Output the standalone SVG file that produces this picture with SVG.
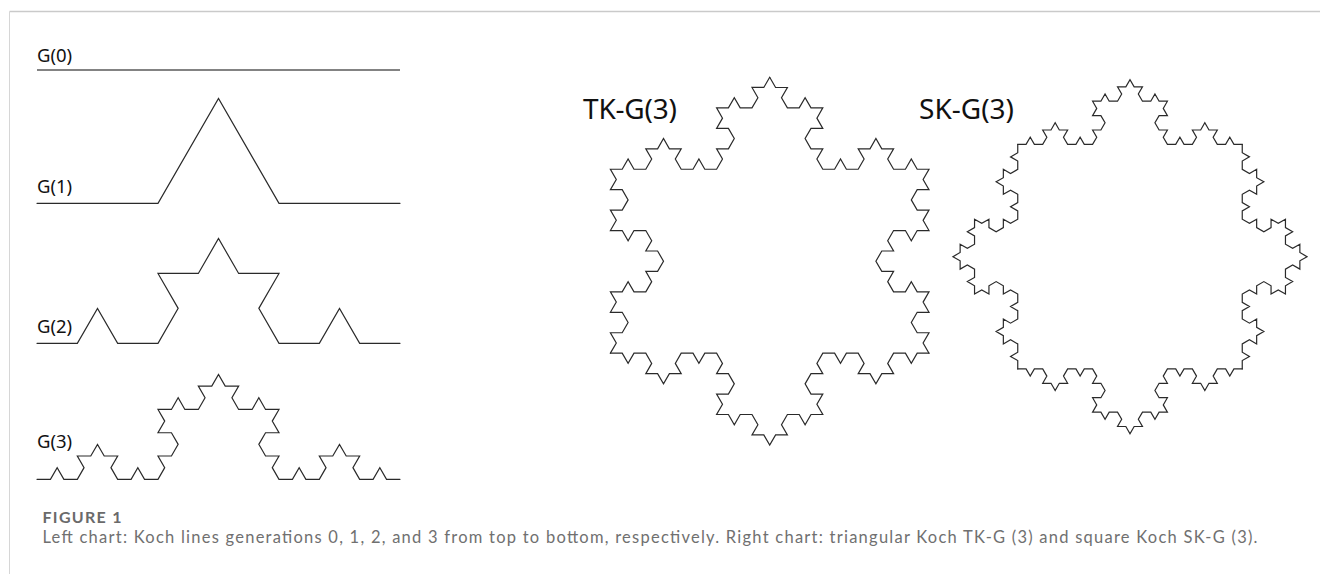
<svg xmlns="http://www.w3.org/2000/svg" xmlns:xlink="http://www.w3.org/1999/xlink" width="1320" height="574" viewBox="0 0 1320 574">
<style>
.k{fill:none;stroke:#2a2a2a;stroke-width:1.2;stroke-linejoin:miter;stroke-linecap:round}
.k0{fill:none;stroke:#5a5a5a;stroke-width:1.7}
.lbl{font-family:"Noto Sans","DejaVu Sans",sans-serif;font-size:18.5px;fill:#111}
.big{font-family:"Noto Sans","DejaVu Sans",sans-serif;font-size:28px;fill:#111}
.figt{font-family:Lato,"Open Sans",sans-serif;font-size:16px;font-weight:bold;fill:#6a6a6a}
.cap{font-family:Lato,"Open Sans",sans-serif;font-size:16.5px;fill:#707070}
</style>
<defs>
<path id="tkside" class="k" d="M0 0 h11.8 l5.9 -10.219 l5.9 10.219 h11.8 l5.9 -10.219 l-5.9 -10.219 h11.8 l5.9 -10.219 l5.9 10.219 h11.8 l-5.9 10.219 l5.9 10.219 h11.8 l5.9 -10.219 l5.9 10.219 h11.8 l5.9 -10.219 l-5.9 -10.219 h11.8 l5.9 -10.219 l-5.9 -10.219 h-11.8 l5.9 -10.219 l-5.9 -10.219 h11.8 l5.9 -10.219 l5.9 10.219 h11.8 l5.9 -10.219 l-5.9 -10.219 h11.8 l5.9 -10.219 l5.9 10.219 h11.8 l-5.9 10.219 l5.9 10.219 h11.8 l5.9 -10.219 l5.9 10.219 h11.8 l-5.9 10.219 l5.9 10.219 h-11.8 l-5.9 10.219 l5.9 10.219 h11.8 l-5.9 10.219 l5.9 10.219 h11.8 l5.9 -10.219 l5.9 10.219 h11.8 l5.9 -10.219 l-5.9 -10.219 h11.8 l5.9 -10.219 l5.9 10.219 h11.8 l-5.9 10.219 l5.9 10.219 h11.8 l5.9 -10.219 l5.9 10.219 h11.8"/>
<path id="skside" class="k" d="M0 0 h8.315 l4.157 -7.201 l4.157 7.201 h8.315 l4.157 -7.201 l-4.157 -7.201 h8.315 l4.157 -7.201 l4.157 7.201 h8.315 l-4.157 7.201 l4.157 7.201 h8.315 l4.157 -7.201 l4.157 7.201 h8.315 l4.157 -7.201 l-4.157 -7.201 h8.315 l4.157 -7.201 l-4.157 -7.201 h-8.315 l4.157 -7.201 l-4.157 -7.201 h8.315 l4.157 -7.201 l4.157 7.201 h8.315 l4.157 -7.201 l-4.157 -7.201 h8.315 l4.157 -7.201 l4.157 7.201 h8.315 l-4.157 7.201 l4.157 7.201 h8.315 l4.157 -7.201 l4.157 7.201 h8.315 l-4.157 7.201 l4.157 7.201 h-8.315 l-4.157 7.201 l4.157 7.201 h8.315 l-4.157 7.201 l4.157 7.201 h8.315 l4.157 -7.201 l4.157 7.201 h8.315 l4.157 -7.201 l-4.157 -7.201 h8.315 l4.157 -7.201 l4.157 7.201 h8.315 l-4.157 7.201 l4.157 7.201 h8.315 l4.157 -7.201 l4.157 7.201 h8.315"/>
</defs>
<g id="frame">
<line x1="9.5" y1="11.5" x2="1320" y2="11.5" stroke="#cacaca" stroke-width="1.6"/>
<line x1="9.5" y1="11.5" x2="9.5" y2="574" stroke="#d6d6d6" stroke-width="1"/>
</g>
<g id="g0">
<path class="k0" d="M37 70 h363"/>
<text class="lbl" x="37" y="61.5">G(0)</text>
</g>
<g id="g1">
<path class="k" d="M37 203.3 h121 l60.5 -104.789 l60.5 104.789 h121"/>
<text class="lbl" x="37" y="193">G(1)</text>
</g>
<g id="g2">
<path class="k" d="M37 343.3 h40.333 l20.167 -34.929 l20.167 34.929 h40.333 l20.167 -34.929 l-20.167 -34.929 h40.333 l20.167 -34.929 l20.167 34.929 h40.333 l-20.167 34.929 l20.167 34.929 h40.333 l20.167 -34.929 l20.167 34.929 h40.333"/>
<text class="lbl" x="37" y="333">G(2)</text>
</g>
<g id="g3">
<path class="k" d="M37 479.3 h13.444 l6.722 -11.643 l6.722 11.643 h13.444 l6.722 -11.643 l-6.722 -11.643 h13.444 l6.722 -11.643 l6.722 11.643 h13.444 l-6.722 11.643 l6.722 11.643 h13.444 l6.722 -11.643 l6.722 11.643 h13.444 l6.722 -11.643 l-6.722 -11.643 h13.444 l6.722 -11.643 l-6.722 -11.643 h-13.444 l6.722 -11.643 l-6.722 -11.643 h13.444 l6.722 -11.643 l6.722 11.643 h13.444 l6.722 -11.643 l-6.722 -11.643 h13.444 l6.722 -11.643 l6.722 11.643 h13.444 l-6.722 11.643 l6.722 11.643 h13.444 l6.722 -11.643 l6.722 11.643 h13.444 l-6.722 11.643 l6.722 11.643 h-13.444 l-6.722 11.643 l6.722 11.643 h13.444 l-6.722 11.643 l6.722 11.643 h13.444 l6.722 -11.643 l6.722 11.643 h13.444 l6.722 -11.643 l-6.722 -11.643 h13.444 l6.722 -11.643 l6.722 11.643 h13.444 l-6.722 11.643 l6.722 11.643 h13.444 l6.722 -11.643 l6.722 11.643 h13.444"/>
<text class="lbl" x="37" y="448">G(3)</text>
</g>
<g id="tk">
<use xlink:href="#tkside" href="#tkside" transform="translate(610.4 353.17) rotate(-60)"/>
<use xlink:href="#tkside" href="#tkside" transform="translate(769.7 77.26) rotate(60)"/>
<use xlink:href="#tkside" href="#tkside" transform="translate(929 353.17) rotate(180)"/>
<text class="big" x="583" y="119" textLength="94">TK-G(3)</text>
</g>
<g id="sk">
<use xlink:href="#skside" href="#skside" transform="translate(1017.75 368.9) rotate(-90)"/>
<use xlink:href="#skside" href="#skside" transform="translate(1017.75 144.4)"/>
<use xlink:href="#skside" href="#skside" transform="translate(1242.25 144.4) rotate(90)"/>
<use xlink:href="#skside" href="#skside" transform="translate(1242.25 368.9) rotate(180)"/>
<text class="big" x="919" y="119" textLength="95">SK-G(3)</text>
</g>
<g id="caption">
<text class="figt" x="42.5" y="522.5" textLength="79">FIGURE 1</text>
<text class="cap" x="42.5" y="542.5" textLength="1215">Left chart: Koch lines generations 0, 1, 2, and 3 from top to bottom, respectively. Right chart: triangular Koch TK-G (3) and square Koch SK-G (3).</text>
</g>
</svg>
